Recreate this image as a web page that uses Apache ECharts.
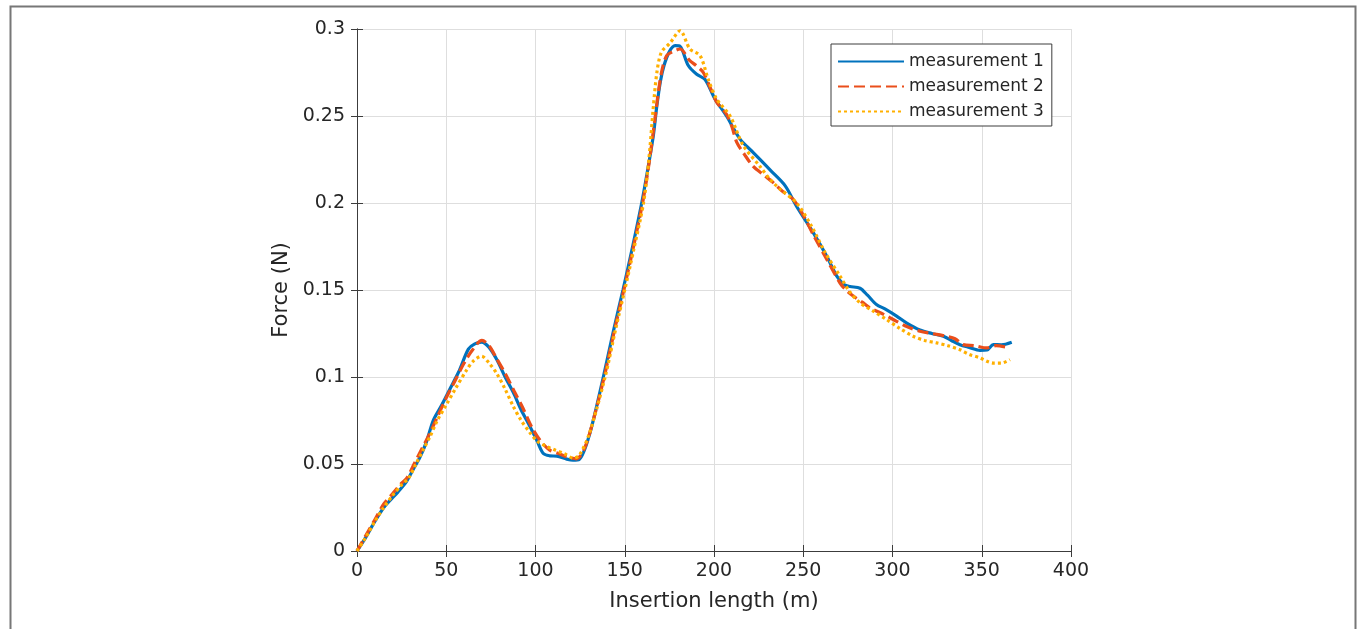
<!DOCTYPE html>
<html>
<head>
<meta charset="utf-8">
<script src="https://cdn.jsdelivr.net/npm/echarts@6/dist/echarts.min.js"></script>
<style>
html,body{margin:0;padding:0;background:#fff;}
#chart{width:1361px;height:629px;}
</style>
</head>
<body>
<div id="chart"></div>
<script>
// ---- data (x: insertion length, y: force) ----
const seriesNames = ['measurement 1', 'measurement 2', 'measurement 3'];
const xTicks = [0, 50, 100, 150, 200, 250, 300, 350, 400];
const yTicks = [0, 0.05, 0.1, 0.15, 0.2, 0.25, 0.3];

const measurement1 = [
  [0,0],[5,0.008],[10,0.017],[15,0.025],[18.5,0.029],[23,0.034],[27.8,0.040],[31,0.046],
  [35.3,0.054],[39,0.063],[42.7,0.075],[47,0.083],[52,0.093],[57,0.103],[62.4,0.116],
  [66,0.119],[69.8,0.120],[74,0.117],[78.3,0.110],[83,0.100],[87.6,0.091],[92,0.081],
  [96.9,0.0716],[101,0.063],[104.4,0.056],[108,0.0547],[112,0.0545],[117.5,0.0528],
  [121,0.0522],[124.5,0.0526],[130,0.066],[138,0.100],[144,0.128],[149,0.150],
  [154,0.173],[159.5,0.200],[163,0.220],[166,0.2386],[168,0.256],[170,0.270],[172,0.279],
  [175,0.287],[178.2,0.2904],[181,0.290],[185.6,0.279],[190.3,0.274],[195,0.271],[200.6,0.2597],
  [207,0.25],[214.6,0.2367],[222,0.229],[231.4,0.219],[239.8,0.21],[246.3,0.198],
  [255.6,0.183],[263.1,0.1695],[268.8,0.158],[273,0.153],[276.2,0.152],[281.8,0.151],
  [286,0.147],[291,0.1417],[296,0.139],[302.3,0.135],[308,0.131],[315.4,0.127],
  [322,0.125],[328.5,0.1234],[333,0.121],[337.8,0.1186],[343,0.117],[349,0.1153],
  [353,0.1155],[356.5,0.1186],[361,0.1185],[366.8,0.120]
];
const measurement2 = [
  [0,0],[5,0.009],[10,0.018],[15,0.027],[20,0.033],[25,0.039],[28,0.042],[32,0.050],
  [36,0.058],[40,0.066],[45,0.077],[50,0.088],[55,0.098],[60,0.108],[65,0.116],
  [70,0.121],[74,0.118],[78,0.111],[83,0.102],[88,0.092],[93,0.082],[98,0.071],
  [103,0.063],[108,0.058],[113,0.056],[118,0.054],[123,0.053],[127,0.058],[131,0.070],
  [138.5,0.100],[144.5,0.128],[149.5,0.150],[154.5,0.173],[160,0.200],[163.5,0.222],
  [166.5,0.245],[169,0.265],[171,0.277],[173.5,0.2847],[177,0.287],[181,0.2885],[186.3,0.282],[190,0.279],
  [194,0.275],[198,0.266],[201.5,0.258],[207,0.251],[210,0.244],[212.7,0.235],
  [217,0.228],[222,0.221],[228,0.216],[233.2,0.2117],[238,0.207],[244.4,0.202],
  [250,0.193],[256,0.181],[263,0.168],[270.6,0.154],[274,0.150],[278,0.1465],
  [283,0.143],[287.4,0.1397],[295,0.136],[302.3,0.132],[308,0.129],[315.4,0.1263],
  [322,0.125],[330.3,0.1234],[335,0.122],[339.6,0.1186],[346,0.118],[352.8,0.1167],
  [358,0.118],[365.8,0.1167]
];
const measurement3 = [
  [0,0],[5,0.008],[10,0.017],[15,0.025],[20,0.032],[25,0.038],[29,0.042],[33,0.050],
  [37,0.058],[41,0.066],[45,0.075],[50,0.084],[55,0.093],[61.4,0.104],[65,0.109],
  [69.8,0.112],[74,0.108],[78.3,0.102],[83,0.093],[87.6,0.083],[92,0.075],[96.9,0.068],
  [101,0.063],[106.3,0.060],[111,0.058],[116,0.056],[121.2,0.0534],[124.5,0.055],
  [130,0.067],[139,0.100],[145,0.128],[150,0.150],[155,0.173],[160.5,0.200],[163.5,0.225],
  [166,0.255],[168,0.275],[170.5,0.2866],[175.4,0.292],[181,0.299],
  [186.5,0.2885],[192.2,0.2847],[196.8,0.271],[201.5,0.2597],[209,0.25],[216.4,0.233],
  [225.8,0.221],[231,0.214],[237,0.208],[246.3,0.200],[255,0.186],[262,0.172],
  [270.6,0.158],[276,0.149],[281.8,0.1426],[289,0.138],[296.7,0.133],[304,0.128],
  [311.6,0.1234],[318,0.121],[324.7,0.1196],[331,0.118],[337.8,0.1157],[343,0.113],
  [349,0.111],[353,0.109],[356.5,0.108],[361,0.108],[365.8,0.110]
];

const FONT = 'DejaVu Sans';
const chart = echarts.init(document.getElementById('chart'), null, {renderer: 'canvas'});

const axisCommon = {
  axisLine: {show: true, lineStyle: {color: '#3c3c3c', width: 1}},
  axisTick: {show: true, inside: true, length: 6, lineStyle: {color: '#3c3c3c'}},
};

chart.setOption({
  backgroundColor: '#ffffff',
  animation: false,
  graphic: [{
    type: 'rect', left: 8, top: 4, silent: true,
    shape: {width: 1345, height: 700},
    style: {fill: 'none', stroke: '#777777', lineWidth: 2}
  }],
  grid: {left: 357, right: 290, top: 29, bottom: 78, show: false},
  legend: {
    data: seriesNames,
    orient: 'vertical',
    left: 831, top: 44,
    itemWidth: 66, itemHeight: 14,
    itemGap: 8,
    padding: [9, 8, 6, 6],
    borderColor: '#3c3c3c', borderWidth: 1,
    backgroundColor: '#ffffff',
    itemStyle: {opacity: 0},
    textStyle: {fontFamily: FONT, fontSize: 17, color: '#262626'}
  },
  xAxis: [{
    type: 'value', min: xTicks[0], max: xTicks[xTicks.length - 1], interval: 50,
    name: 'Insertion length (m)', nameLocation: 'middle', nameGap: 40,
    nameTextStyle: {fontFamily: FONT, fontSize: 21, color: '#262626'},
    axisLabel: {fontFamily: FONT, fontSize: 19, color: '#262626', margin: 11},
    splitLine: {show: true, lineStyle: {color: '#dedede', width: 1}},
    ...axisCommon
  }, {
    type: 'value', position: 'top', min: xTicks[0], max: xTicks[xTicks.length - 1], interval: 50,
    axisLabel: {show: false}, splitLine: {show: false},
    ...axisCommon
  }],
  yAxis: [{
    type: 'value', min: yTicks[0], max: yTicks[yTicks.length - 1], interval: 0.05,
    name: 'Force (N)', nameLocation: 'middle', nameGap: 63, nameRotate: 90,
    nameTextStyle: {fontFamily: FONT, fontSize: 21, color: '#262626'},
    axisLabel: {fontFamily: FONT, fontSize: 19, color: '#262626', margin: 12},
    splitLine: {show: true, lineStyle: {color: '#dedede', width: 1}},
    ...axisCommon
  }, {
    type: 'value', position: 'right', min: yTicks[0], max: yTicks[yTicks.length - 1], interval: 0.05,
    axisLabel: {show: false}, splitLine: {show: false},
    ...axisCommon
  }],
  series: [{
    name: seriesNames[0], type: 'line', data: measurement1, showSymbol: false, symbol: 'none',
    smooth: 0.3, color: '#0072BD',
    lineStyle: {color: '#0072BD', width: 3.2, type: 'solid'}, z: 3
  }, {
    name: seriesNames[1], type: 'line', data: measurement2, showSymbol: false, symbol: 'none',
    smooth: 0.3, color: '#EA4E1B',
    lineStyle: {color: '#EA4E1B', width: 3.2, type: [11, 5]}, z: 4
  }, {
    name: seriesNames[2], type: 'line', data: measurement3, showSymbol: false, symbol: 'none',
    smooth: 0.3, color: '#FFB000',
    lineStyle: {color: '#FFB000', width: 3.2, type: [3, 3]}, z: 5
  }]
});
</script>
</body>
</html>
